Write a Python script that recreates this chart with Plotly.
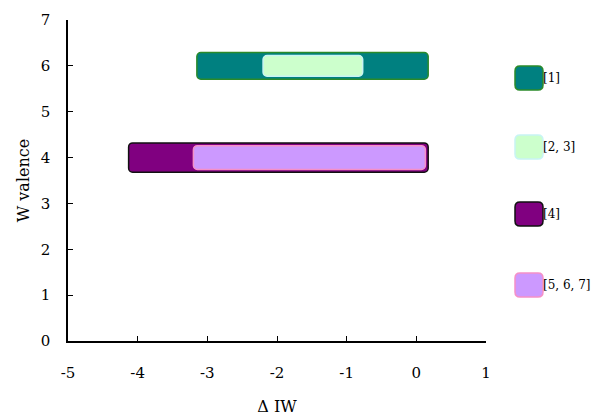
import plotly.graph_objects as go

# data
labels = ["[1]", "[2, 3]", "[4]", "[5, 6, 7]"]
valence = [6, 6, 4, 4]
x_start = [-3.15, -2.2, -4.13, -3.2]
x_end = [0.17, -0.77, 0.17, 0.13]
x_ticks = [-5, -4, -3, -2, -1, 0, 1]
x_ticktext = ["-5", "-4", "-3", "-2", "-1", "0", "1"]
y_ticks = [0, 1, 2, 3, 4, 5, 6, 7]

fills = ["#008080", "#ccffcc", "#800080", "#cc99ff"]
edges = ["#2a8a2a", "#c8f4f4", "#111111", "#f590c8"]
widths = [0.58, 0.45, 0.64, 0.52]

fig = go.Figure()
for lab, v, s, e, fc, ec, w in zip(labels, valence, x_start, x_end, fills, edges, widths):
    fig.add_trace(go.Bar(
        y=[v], x=[e - s], base=[s], orientation="h", width=w, name=lab,
        marker=dict(color=fc, line=dict(color=ec, width=1.5)),
        showlegend=False, hoverinfo="skip",
    ))

# manual legend with rounded swatches (paper coords)
L, R, T, B = 68, 486, 20, 341
def px(xp):
    return (xp - L) / (R - L)
def py(yp):
    return (B - yp) / (B - T)

def rrect(x0, y0, x1, y1, r):
    X0, X1 = px(x0), px(x1)
    Y0, Y1 = py(y0), py(y1)
    rx = r / (R - L)
    ry = r / (B - T)
    return (f"M {X0+rx},{Y0} L {X1-rx},{Y0} Q {X1},{Y0} {X1},{Y0-ry} "
            f"L {X1},{Y1+ry} Q {X1},{Y1} {X1-rx},{Y1} L {X0+rx},{Y1} "
            f"Q {X0},{Y1} {X0},{Y1+ry} L {X0},{Y0-ry} Q {X0},{Y0} {X0+rx},{Y0} Z")

leg_top = [66, 135, 202, 273]
for lab, fc, ec, ty in zip(labels, fills, edges, leg_top):
    fig.add_shape(type="path", xref="paper", yref="paper",
                  path=rrect(515, ty, 543, ty + 24, 5),
                  fillcolor=fc, line=dict(color=ec, width=1.5))
    fig.add_annotation(xref="paper", yref="paper", x=px(543), y=py(ty + 12),
                       text=lab, showarrow=False, xanchor="left", yanchor="middle",
                       xshift=-2,
                       font=dict(size=12, color="black", family="DejaVu Serif"))

axis_common = dict(
    showline=True, linecolor="black", linewidth=1.5, mirror=False,
    ticks="inside", ticklen=5, tickcolor="black", tickwidth=1,
    showgrid=False, zeroline=False, automargin=False,
    tickfont=dict(size=15, color="black", family="DejaVu Serif"),
)

fig.update_layout(
    width=591, height=416,
    margin=dict(l=L, r=591 - R, t=T, b=416 - B, autoexpand=False),
    paper_bgcolor="white", plot_bgcolor="white",
    font=dict(family="DejaVu Serif, Liberation Serif, serif", color="black"),
    barmode="overlay", barcornerradius=4,
    xaxis=dict(range=[-5, 1], tickmode="array", tickvals=x_ticks, ticktext=x_ticktext,
               ticklabelstandoff=17,
               title=dict(text="Δ IW", font=dict(size=16, family="DejaVu Serif"), standoff=29),
               **axis_common),
    yaxis=dict(range=[0, 7], tickmode="array", tickvals=y_ticks, ticklabelstandoff=13,
               title=dict(text="W valence", font=dict(size=16, family="DejaVu Serif"), standoff=7),
               **axis_common),
)

fig.write_html("out.html", config={"displayModeBar": False},
               post_script="document.body.style.margin='0';document.body.style.overflow='hidden';")
